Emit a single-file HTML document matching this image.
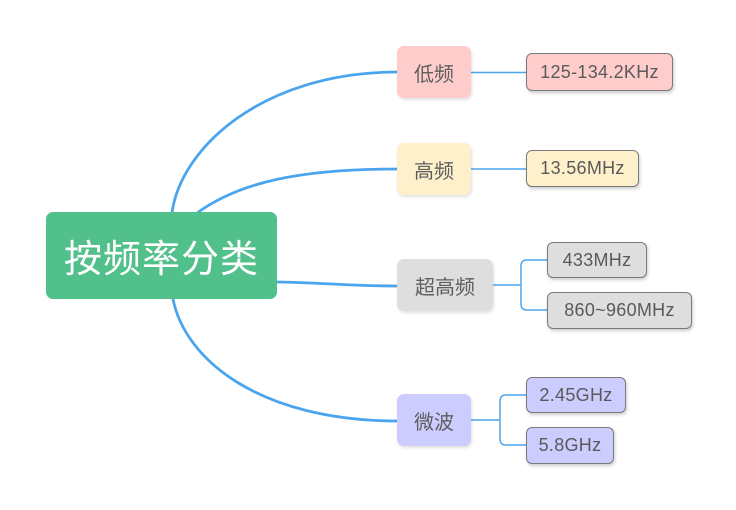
<!DOCTYPE html>
<html>
<head>
<meta charset="utf-8">
<style>
  html,body{margin:0;padding:0;background:#fff;}
  body{width:736px;height:510px;position:relative;overflow:hidden;}
  .n{position:absolute;box-sizing:border-box;display:flex;align-items:center;justify-content:center;white-space:nowrap;}
  .root{left:46px;top:212px;width:231px;height:87px;background:#52c08a;border-radius:7px;color:#fff;font-family:"Liberation Sans","Noto Sans CJK SC",sans-serif;font-size:38px;letter-spacing:1px;}
  .l1{border-radius:7px;color:#5e5e5e;font-family:"Liberation Sans","Noto Sans CJK SC",sans-serif;font-size:20px;box-shadow:1px 2px 3px rgba(0,0,0,0.12);}
  .l2{border-radius:6px;border:1px solid #7a7a7a;color:#5a5a5a;font-family:"Liberation Sans","Noto Sans CJK SC",sans-serif;font-size:18px;letter-spacing:0.3px;box-shadow:1px 2px 3px rgba(0,0,0,0.2);}
  .red{background:#ffcccc;}
  .yel{background:#fff0cc;}
  .gry{background:#dedede;}
  .pur{background:#ccccff;}
  svg{position:absolute;left:0;top:0;}
</style>
</head>
<body>
<svg width="736" height="510" viewBox="0 0 736 510">
  <g fill="none" stroke="#4ba5ee" stroke-width="2.8" stroke-linecap="round">
    <path d="M172,213 C180,150 260,72 398,72"/>
    <path d="M197,213 C240,182 300,169 398,169"/>
    <path d="M277,282 C330,283 350,286 398,286"/>
    <path d="M173,299 C185,360 260,421 398,421"/>
  </g>
  <g fill="none" stroke="#4ba5ee" stroke-width="1.5">
    <path d="M471,72.5 H526"/>
    <path d="M471,169 H526"/>
    <path d="M493,285 H521"/>
    <path d="M547,260 H527 Q521,260 521,266 V304 Q521,310 527,310 H547"/>
    <path d="M471,420 H500"/>
    <path d="M526,395 H506 Q500,395 500,401 V439 Q500,445 506,445 H526"/>
  </g>
</svg>

<div class="n root">按频率分类</div>

<div class="n l1 red" style="left:397px;top:46px;width:74px;height:52px;">低频</div>
<div class="n l1 yel" style="left:397px;top:143px;width:74px;height:52px;">高频</div>
<div class="n l1 gry" style="left:397px;top:259px;width:96px;height:52px;">超高频</div>
<div class="n l1 pur" style="left:397px;top:394px;width:74px;height:52px;">微波</div>

<div class="n l2 red" style="left:526px;top:53px;width:147px;height:38px;">125-134.2KHz</div>
<div class="n l2 yel" style="left:526px;top:150px;width:113px;height:37px;">13.56MHz</div>
<div class="n l2 gry" style="left:547px;top:242px;width:100px;height:36px;">433MHz</div>
<div class="n l2 gry" style="left:547px;top:292px;width:145px;height:37px;">860~960MHz</div>
<div class="n l2 pur" style="left:526px;top:377px;width:100px;height:36px;">2.45GHz</div>
<div class="n l2 pur" style="left:526px;top:427px;width:88px;height:37px;">5.8GHz</div>
</body>
</html>
